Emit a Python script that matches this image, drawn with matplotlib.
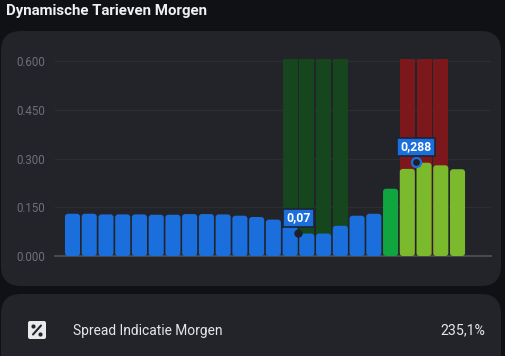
import matplotlib
matplotlib.use("Agg")
import matplotlib.pyplot as plt
from matplotlib.patches import FancyBboxPatch
from matplotlib.path import Path

plt.rcParams['font.family'] = ['Roboto', 'DejaVu Sans']

title = "Dynamische Tarieven Morgen"
hours = list(range(24))
prices = [.130, .130, .128, .128, .128, .127, .127, .129, .129, .128, .124, .120,
          .112, .091, .069, .069, .093, .124, .130, .207, .268, .287, .279, .267]
low_hours = [13, 14, 15, 16]
high_hours = [20, 21, 22]
band_top = 0.606
yticks = [0, .15, .30, .45, .60]
low_point = (13.5, 0.07, "0,07")
high_point = (20.5, 0.288, "0,288")
stat_label = "Spread Indicatie Morgen"
stat_value = "235,1%"

BG, CARD = "#101114", "#222429"
BLUE, LIME, GREEN = "#1a6fdc", "#7aba2c", "#10a53f"

W, H = 506, 356
fig = plt.figure(figsize=(W / 100, H / 100), dpi=100, facecolor=BG)

bg = fig.add_axes([0, 0, 1, 1], zorder=0)
bg.set_xlim(0, W); bg.set_ylim(H, 0); bg.axis("off")
for (x, y, w, h) in [(1, 31, 500, 255), (1, 294, 500, 90)]:
    bg.add_patch(FancyBboxPatch((x, y), w, h, boxstyle="round,pad=0,rounding_size=20",
                                fc=CARD, ec="none"))
bg.text(6, 11.5, title, color="#eef0f2", fontsize=10.8, fontweight="bold", va="center", ha="left")
bg.text(73, 330.5, stat_label, color="#e4e7ea", fontsize=9.9, va="center", ha="left")
bg.text(485, 330.5, stat_value, color="#e4e7ea", fontsize=10.2, va="center", ha="right")
bg.add_patch(FancyBboxPatch((28, 321), 18, 18, boxstyle="round,pad=0,rounding_size=2",
                            fc="#e8e9eb", ec="none"))
# percent icon: slash and two dots
bg.plot([33, 41], [334.5, 325.5], color="#222429", lw=1.5, solid_capstyle="round")
bg.plot([33.5, 40.5], [326, 334], "o", color="#222429", ms=3, mew=0)

px_top, px_bot, px_l, px_r = 57.75, 256.0, 55, 491
ax = fig.add_axes([px_l / W, 1 - px_bot / H, (px_r - px_l) / W, (px_bot - px_top) / H], zorder=1)
ax.patch.set_alpha(0)
ax.set_xlim(-1.045, 25.0)
ax.set_ylim(0, 0.61)
for s in ["top", "left", "right"]:
    ax.spines[s].set_visible(False)
ax.spines["bottom"].set_color("#4b4c50")
ax.spines["bottom"].set_linewidth(1.4)
ax.set_xticks([])
ax.set_yticks(yticks, [f"{v:.3f}" for v in yticks])
ax.tick_params(axis="y", length=0, pad=7, labelsize=8.3, labelcolor="#6d7078")
ax.grid(axis="y", color="#302d2f", linewidth=0.9)
ax.set_axisbelow(True)

ax.bar(high_hours, [band_top] * len(high_hours), width=0.9, color="#7c171b", zorder=2)
ax.bar(low_hours, [band_top] * len(low_hours), width=0.9, color="#15461e", zorder=2)

colors = []
for v in prices:
    colors.append(LIME if v > .25 else GREEN if v > .2 else BLUE)
bars = ax.bar(hours, prices, width=0.9, color=colors, zorder=3)

sx = 16.74
sy = 325.0
for b in bars:
    x, y, w, h = b.get_x(), b.get_y(), b.get_width(), b.get_height()
    b.set_visible(False)
    ax.add_patch(FancyBboxPatch((x, y), w, h, boxstyle=f"round,pad=0,rounding_size={3 / sx}",
                                mutation_aspect=sx / sy, fc=b.get_facecolor(), ec="none",
                                zorder=3, clip_on=False))


def tip_box(x0, y0, width, height, mutation_size):
    # tooltip rectangle: wide side padding, tight top and bottom
    px, py = 3.5, 2.2
    l, r, b, t = x0 - px, x0 + width + px, y0 - py, y0 + height + py
    return Path([(l, b), (r, b), (r, t), (l, t), (l, b)], closed=True)


for (x, y, label), edge, ms in zip([low_point, high_point], ["none", BLUE], [6.0, 6.5]):
    ax.plot([x], [y], "o", ms=ms, mfc="#1d2026", mec=edge, mew=1.6, zorder=4, clip_on=False)
    ax.annotate(label, (x, y), xytext=(0, 6.4), textcoords="offset points",
                ha="center", va="bottom", color="white", fontsize=8.8, fontweight="bold", zorder=5,
                bbox=dict(boxstyle=tip_box, fc=BLUE, ec="#1c2533", lw=1.2))

fig.savefig("out.png", dpi=100, facecolor=BG)
